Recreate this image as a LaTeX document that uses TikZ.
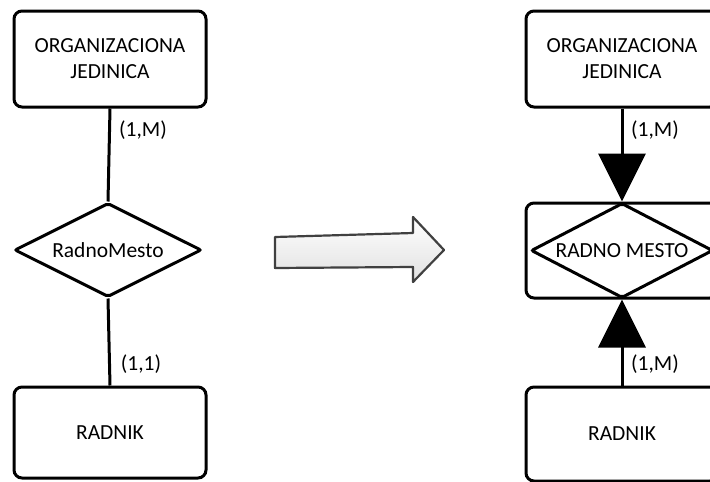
\documentclass[tikz,border=0pt]{standalone}
\usepackage{fontspec}
\setmainfont{Carlito}
\usetikzlibrary{shapes.geometric,arrows.meta}
\begin{document}
\begin{tikzpicture}[x=1pt,y=-1pt,
  ent/.style={draw,line width=3pt,rounded corners=8pt,minimum width=192pt,
    minimum height=96pt,inner sep=0pt,align=center,
    font=\fontsize{21.5}{26}\selectfont},
  rel/.style={draw,diamond,aspect=2,line width=3pt,inner sep=0pt,rounded corners=2pt,
    font=\fontsize{21.5}{26}\selectfont},
  card/.style={font=\fontsize{21.5}{24}\selectfont},
  link/.style={line width=3pt},
  head/.style={-{Triangle[width=47pt,length=48pt]}},
  bigarrow/.style={line width=2.2pt,draw=black!75,top color=white,
    bottom color=black!12,line join=round}
]
\useasboundingbox (0,0) rectangle (710,482);
\clip (0,0) rectangle (710,482);

% ---- before: relationship as a diamond ----
\node[ent] (oj1) at (110,59) {ORGANIZACIONA\\JEDINICA};
\node[rel,minimum width=187pt,minimum height=94pt] (rm1) at (108,250) {RadnoMesto};
\node[ent,minimum height=91pt] (r1) at (110,432.5) {RADNIK};
\draw[link] (oj1.south) -- (rm1.north);
\draw[link] (rm1.south) -- (r1.north);
\node[card] (c1) at (143,130) {(1,M)};
\node[card] (c2) at (141,364) {(1,1)};

% ---- transformation arrow ----
\draw[bigarrow] (275,237) -- (413,233) -- (413,217) -- (444,250)
  -- (413,282) -- (413,267) -- (275,268) -- cycle;

% ---- after: relationship turned into an aggregated entity ----
\node[ent] (oj2) at (622,59) {ORGANIZACIONA\\JEDINICA};
\node[ent,minimum height=95pt] (rmbox) at (622,250.5) {};
\node[rel,minimum width=182pt,minimum height=95pt] (rm2) at (622,250.5) {RADNO MESTO};
\node[ent,minimum height=94pt] (r2) at (622,434) {RADNIK};
\draw[link,head] (oj2.south) -- (rm2.north);
\draw[link,head] (r2.north) -- (rm2.south);
\node[card] (c3) at (655,130) {(1,M)};
\node[card] (c4) at (655,364) {(1,M)};
\end{tikzpicture}
\end{document}
